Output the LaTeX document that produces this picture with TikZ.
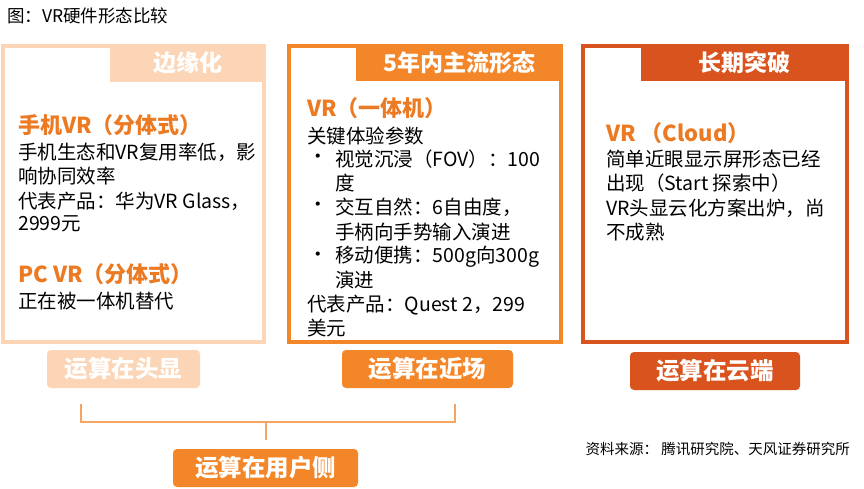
\documentclass[tikz,border=0pt]{standalone}
\usepackage{fontspec}
\setmainfont{Noto Sans CJK SC}
\definecolor{peach}{HTML}{FBD5B5}
\definecolor{orng}{HTML}{F4862A}
\definecolor{darko}{HTML}{D9531E}
\definecolor{headc}{HTML}{EC7A22}
\definecolor{brk}{HTML}{F5A562}
\begin{document}
\begin{tikzpicture}[x=1pt,y=-1pt,
 body/.style={anchor=west, inner sep=0pt, font=\fontsize{19.5}{24}\selectfont},
 hd/.style={anchor=west, inner sep=0pt, font=\fontsize{22}{26}\selectfont\bfseries, text=headc},
 hdr/.style={font=\fontsize{23}{27}\selectfont\bfseries, text=white, inner sep=0pt, anchor=north west},
 lbl/.style={rounded corners=4pt, font=\fontsize{23.5}{27}\selectfont\bfseries, text=white, minimum height=38pt, inner sep=0pt},
 brkline/.style={brk, line width=2.8pt},
 brkshadow/.style={black!25, line width=2.8pt}]
\useasboundingbox (0,0) rectangle (864,489);
\fill[white] (0,0) rectangle (864,489);

% title
\node[anchor=west, inner sep=0pt, font=\fontsize{17.5}{20}\selectfont] (title) at (7,16) {图：VR硬件形态比较};

% frames
\draw[peach, line width=4pt] (3,46) rectangle (264,342);
\draw[orng, line width=3.5pt] (289,46) rectangle (561,342);
\draw[darko, line width=3.5pt] (583,46) rectangle (847,342);

% headers
\node[hdr, fill=peach, minimum width=156pt, minimum height=38pt] (h1) at (110,44) {边缘化};
\node[hdr, fill=orng, minimum width=206pt, minimum height=37pt] (h2) at (356,44) {5年内主流形态};
\node[hdr, fill=darko, minimum width=207pt, minimum height=37pt] (h3) at (641,44) {长期突破};

% box 1 text
\node[hd] (t11) at (18,125) {手机VR（分体式）};
\node[body] (t12) at (18,152) {手机生态和VR复用率低，影};
\node[body] (t13) at (18,176) {响协同效率};
\node[body] (t14) at (18,201) {代表产品：华为VR Glass，};
\node[body] (t15) at (18,224) {2999元};
\node[hd] (t16) at (18,274) {PC VR（分体式）};
\node[body] (t17) at (18,301) {正在被一体机替代};

% box 2 text
\node[hd] (t21) at (307,108) {VR（一体机）};
\node[body] (t22) at (307,136) {关键体验参数};
\node[body] (b1) at (308,159) {•};
\node[body] (t23) at (335,159) {视觉沉浸（FOV）：100};
\node[body] (t24) at (335,183) {度};
\node[body] (b2) at (308,207) {•};
\node[body] (t25) at (335,207) {交互自然：6自由度，};
\node[body] (t26) at (335,232) {手柄向手势输入演进};
\node[body] (b3) at (308,257) {•};
\node[body] (t27) at (335,257) {移动便携：500g向300g};
\node[body] (t28) at (335,280) {演进};
\node[body] (t29) at (307,305) {代表产品：Quest 2，299};
\node[body] (t2a) at (307,328) {美元};

% box 3 text
\node[hd] (t31) at (606,133) {VR （Cloud）};
\node[body] (t32) at (606,159) {简单近眼显示屏形态已经};
\node[body] (t33) at (606,183) {出现（Start 探索中）};
\node[body] (t34) at (606,208) {VR头显云化方案出炉，尚};
\node[body] (t35) at (606,232) {不成熟};

% bottom labels
\node[lbl, fill=peach, minimum width=153pt] (l1) at (123.5,369) {运算在头显};
\node[lbl, fill=orng, minimum width=171pt] (l2) at (427.5,369) {运算在近场};
\node[lbl, fill=darko, minimum width=170pt] (l3) at (715,371) {运算在云端};
\node[lbl, fill=orng, minimum width=185pt] (l4) at (265.5,468) {运算在用户侧};

% bracket
\coordinate (bl) at (81,404);
\coordinate (br) at (455,404);
\coordinate (bm) at (266,422);
\coordinate (bs) at (266,440);
\begin{scope}[shift={(2,3)}]
\draw[brkshadow, opacity=0.5] (bl) -- (bl |- bm) -- (br |- bm) -- (br);
\draw[brkshadow, opacity=0.5] (bm) -- (bs);
\end{scope}
\draw[brkline] (bl) -- (bl |- bm) -- (br |- bm) -- (br);
\draw[brkline] (bm) -- (bs);

% source
\node[anchor=east, inner sep=0pt, font=\fontsize{14.5}{17}\selectfont] (src) at (850,449) {资料来源：\ 腾讯研究院、天风证券研究所};
\end{tikzpicture}
\end{document}
